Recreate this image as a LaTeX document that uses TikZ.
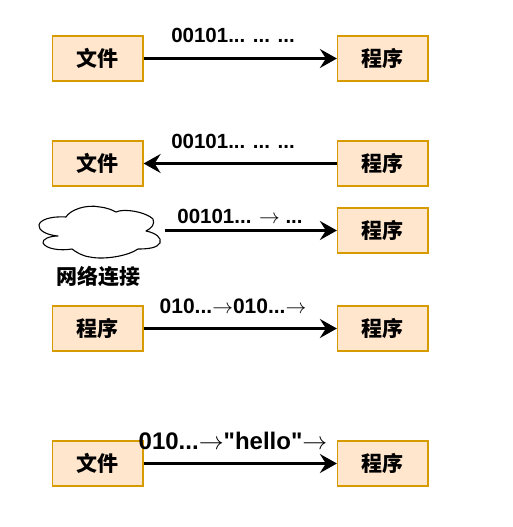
\documentclass[tikz,border=0pt]{standalone}
\usepackage{fontspec}
\setmainfont{Liberation Sans}
\newfontfamily\cjk{Noto Sans CJK SC}
\newfontfamily\plainsans{Liberation Sans}
\usetikzlibrary{arrows.meta}
\newcommand{\thinarrow}{\textnormal{\fontsize{20}{24}\selectfont$\rightarrow$}}
\newcommand{\bigthinarrow}{\textnormal{\fontsize{24}{28}\selectfont$\rightarrow$}}
\tikzset{
  box/.style={draw=boxedge,fill=boxfill,line width=1.2pt,minimum width=90.5pt,minimum height=45pt,inner sep=0pt,font=\cjk\fontsize{21}{25}\selectfont\bfseries},
  flow/.style={line width=2.6pt,draw=black,-{Stealth[length=17pt,width=19pt,inset=6pt]}},
  txt/.style={inner sep=0pt,anchor=base,font=\fontsize{20.5}{24}\selectfont\bfseries}
}
\definecolor{boxedge}{HTML}{D79B00}
\definecolor{boxfill}{HTML}{FFE6CC}
\begin{document}
\begin{tikzpicture}[x=1pt,y=-1pt]
\useasboundingbox (0,0) rectangle (513,527);
\node[box] (f1) at (97.75,58.5) {文件};
\node[box] (p1) at (382.75,58.5) {程序};
\node[box] (f2) at (97.75,163.5) {文件};
\node[box] (p2) at (382.75,163.5) {程序};
\node[box] (p3) at (382.75,230.5) {程序};
\node[box] (s4) at (97.75,328.5) {程序};
\node[box] (p4) at (382.75,328.5) {程序};
\node[box] (f5) at (97.75,463.5) {文件};
\node[box] (p5) at (382.75,463.5) {程序};
\coordinate (c3) at (164.5,230.5);
\draw[flow] (f1) -- (p1);
\draw[flow] (p2) -- (f2);
\draw[flow] (c3) -- (p3);
\draw[flow] (s4) -- (p4);
\draw[flow] (f5) -- (p5);
\node[txt] (t1) at (233,43) {00101... ... ...};
\node[txt] (t2) at (233,148) {00101... ... ...};
\node[txt] (t3) at (240,223) {00101... \thinarrow{} ...};
\node[txt,font=\fontsize{21}{25}\selectfont\bfseries] (t4) at (233,313) {010...\thinarrow010...\thinarrow};
\node[txt,font=\plainsans\fontsize{24}{28}\selectfont\bfseries] (t5) at (233,449) {010...\bigthinarrow"hello"\bigthinarrow};
\node[inner sep=0pt,anchor=base,font=\cjk\fontsize{21}{25}\selectfont\bfseries] (t6) at (98,284) {网络连接};
\draw[line width=1.1pt,fill=white,line join=round]
  (58,236)
  .. controls (46,235) and (38,230) .. (39,225)
  .. controls (40,220) and (50,216) .. (66,217)
  .. controls (70,210) and (86,204) .. (100,207)
  .. controls (108,208) and (112,210) .. (116,212)
  .. controls (124,208) and (146,212) .. (153,219)
  .. controls (155,224) and (152,228) .. (146,231)
  .. controls (156,233) and (162,238) .. (160,243)
  .. controls (157,248) and (148,249) .. (138,249)
  .. controls (128,256) and (104,260) .. (90,257)
  .. controls (82,256) and (76,252) .. (72,249)
  .. controls (60,251) and (46,249) .. (43,243)
  .. controls (42,239) and (50,236) .. (58,236) -- cycle;
\end{tikzpicture}
\end{document}
